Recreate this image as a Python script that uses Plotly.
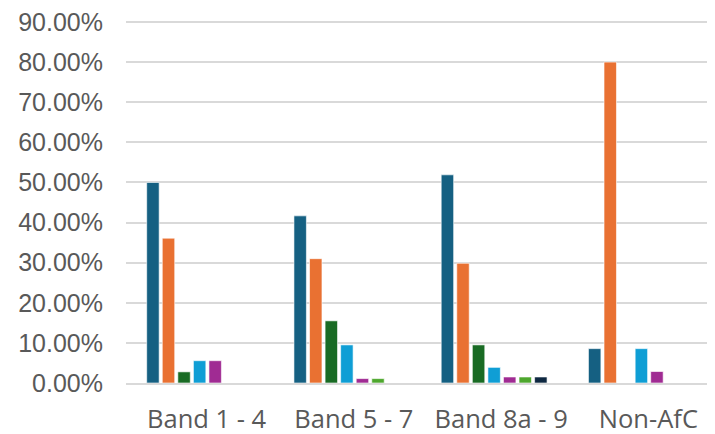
import plotly.graph_objects as go

categories = ["Band 1 - 4", "Band 5 - 7", "Band 8a - 9", "Non-AfC"]
series_names = ["Series 1", "Series 2", "Series 3", "Series 4", "Series 5", "Series 6", "Series 7"]
s1 = [0.5000, 0.4167, 0.5190, 0.0857]
s2 = [0.3611, 0.3100, 0.2985, 0.8000]
s3 = [0.0278, 0.1550, 0.0950, 0.0]
s4 = [0.0556, 0.0950, 0.0390, 0.0857]
s5 = [0.0556, 0.0110, 0.0150, 0.0286]
s6 = [0.0, 0.0110, 0.0150, 0.0]
s7 = [0.0, 0.0, 0.0150, 0.0]
tick_vals = [0, 0.1, 0.2, 0.3, 0.4, 0.5, 0.6, 0.7, 0.8, 0.9]
tick_text = ["0.00%", "10.00%", "20.00%", "30.00%", "40.00%", "50.00%", "60.00%", "70.00%", "80.00%", "90.00%"]

colors = ["#156082", "#E97132", "#196B24", "#0F9ED5", "#A02B93", "#4EA72E", "#0E2841"]
all_series = [s1, s2, s3, s4, s5, s6, s7]

fig = go.Figure()
for name, vals, c in zip(series_names, all_series, colors):
    fig.add_trace(go.Bar(
        x=categories, y=vals, name=name,
        marker=dict(color=c, line=dict(color="rgba(255,255,255,0.6)", width=1)),
    ))

# page body has an 8px default margin, so the figure is sized to fit
fig.update_layout(
    width=707, height=426,
    margin=dict(l=118, r=0, t=12, b=51),
    paper_bgcolor="white", plot_bgcolor="white",
    barmode="group", bargap=0.26, bargroupgap=0.2,
    showlegend=False,
    font=dict(family="Liberation Sans, Arial, sans-serif", color="#595959"),
)
fig.update_yaxes(
    range=[0, 0.905], tickvals=tick_vals, ticktext=tick_text,
    showgrid=True, gridcolor="#D9D9D9", gridwidth=1.5,
    zeroline=False, showline=False, automargin=False,
    tickfont=dict(size=25, family="Liberation Sans, Arial, sans-serif", color="#595959"),
    ticklabelstandoff=22, ticklabeloverflow="allow",
)
fig.update_xaxes(
    showline=True, linecolor="#D9D9D9", linewidth=1.5, automargin=False,
    tickfont=dict(size=25.5, family="Open Sans, sans-serif", color="#595959"),
    ticklabelstandoff=13, ticklabelshift=7, ticklabeloverflow="allow",
)
fig.write_html("out.html")
